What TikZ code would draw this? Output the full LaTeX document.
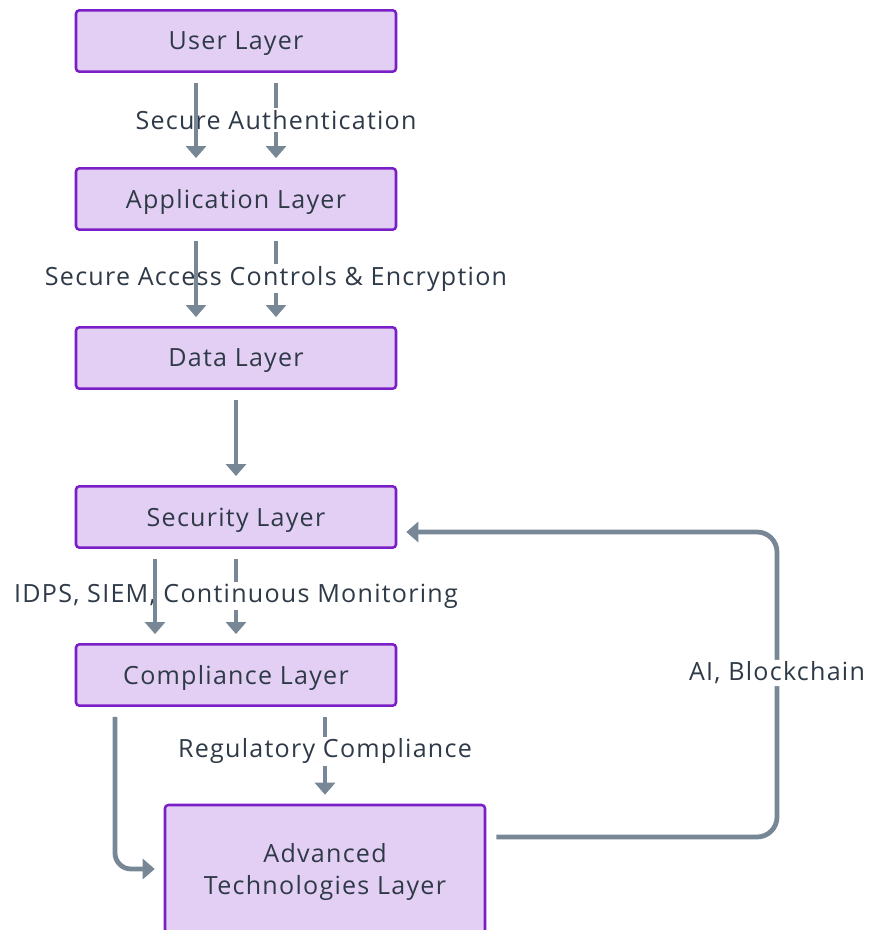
\documentclass[tikz,border=0pt]{standalone}
\usepackage{fontspec}
\setmainfont[LetterSpace=5]{Open Sans}
\usetikzlibrary{arrows.meta}

\definecolor{layerfill}{HTML}{E3CFF3}
\definecolor{layerdraw}{HTML}{7A1FC8}
\definecolor{flowgray}{HTML}{788796}
\definecolor{textdark}{HTML}{2F3A48}

\tikzset{
    layer/.style={draw=layerdraw, fill=layerfill, line width=1.9pt, rounded corners=2.5pt,
        minimum width=240pt, minimum height=46pt, align=center, text=textdark, text depth=0pt},
    flow/.style={draw=flowgray, line width=3.6pt, shorten <=7.5pt, shorten >=6.75pt,
        -{Triangle[width=15pt,length=9pt]}},
    lbl/.style={fill=white, inner sep=1.5pt, text=textdark}
}

\begin{document}
\begin{tikzpicture}[x=0.75pt, y=-0.75pt, font=\fontsize{18.8}{24}\selectfont]

        \clip (0,0) rectangle (870,930);

        % stack of layers
        \foreach \n/\y/\t in {user/41/User Layer, app/199/Application Layer,
                data/358/Data Layer, sec/517/Security Layer, comp/675/Compliance Layer}
            \node[layer] (\n) at (236,\y) {\t};

        \node[layer, minimum height=96pt] (adv) at (325,869) {Advanced\\Technologies Layer};

        \coordinate (loop) at (777,673);

        % labelled edges first, plain ones go over their labels
        \path[flow] ([xshift=30pt]user.south) -- node[lbl] {Secure Authentication} ([xshift=30pt]app.north);
        \path[flow] ([xshift=30pt]app.south) -- node[lbl] {Secure Access Controls \& Encryption} ([xshift=30pt]data.north);
        \path[flow] (sec.south) -- node[lbl] {IDPS, SIEM, Continuous Monitoring} (comp.north);
        \path[flow] ([xshift=66.75pt]comp.south) -- node[lbl, pos=0.46] {Regulatory Compliance} (adv.north);
        \path[flow, rounded corners=15pt] ([yshift=24pt]adv.east) -| (loop) node[lbl] {AI, Blockchain}
            |- ([yshift=-11.25pt]sec.east);

        \path[flow] ([xshift=-30pt]user.south) -- ([xshift=-30pt]app.north);
        \path[flow] ([xshift=-30pt]app.south) -- ([xshift=-30pt]data.north);
        \path[flow] (data.south) -- (sec.north);
        \path[flow] ([xshift=-60.75pt]sec.south) -- ([xshift=-60.75pt]comp.north);
        \path[flow, rounded corners=12pt] ([xshift=-90.75pt]comp.south) |- (adv.west);

\end{tikzpicture}
\end{document}
